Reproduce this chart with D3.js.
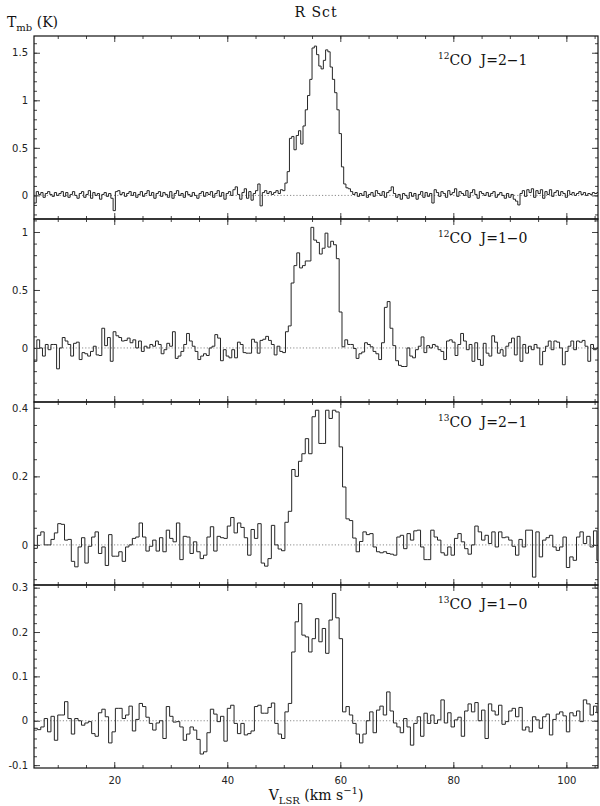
<!DOCTYPE html>
<html><head><meta charset="utf-8">
<script src="https://cdn.jsdelivr.net/npm/d3@7"></script>
<style>body{margin:0;background:#fff}</style>
</head><body><svg id="c" width="600" height="806"></svg>
<script>
// ---------------- data ----------------
const chartTitle = "R Sct";
const velocityRange = [5.8, 105.6];          // km/s shown on x axis
const xTickValues = [20, 40, 60, 80, 100];
const xTickLabels = ["20", "40", "60", "80", "100"];
const xMinorStep = 5;

const panelIsotopes = ["12", "12", "13", "13"];
const panelLines = ["CO J=2\u22121", "CO J=1\u22120", "CO J=2\u22121", "CO J=1\u22120"];
const firstChannelStart = 5.8;                // km/s, left edge of first channel
const channelWidths = [0.4, 0.5, 0.6, 0.6];   // km/s

const yDomains = [[-0.248, 1.676], [-0.466, 1.112], [-0.117, 0.417], [-0.1065, 0.306]];
const yTickValues = [[0, 0.5, 1, 1.5], [0, 0.5, 1], [0, 0.2, 0.4], [-0.1, 0, 0.1, 0.2, 0.3]];
const yTickLabels = [["0", "0.5", "1", "1.5"], ["0", "0.5", "1"], ["0", "0.2", "0.4"], ["-0.1", "0", "0.1", "0.2", "0.3"]];
const yMinorSteps = [0.1, 0.1, 0.05, 0.02];

// 12CO J=2-1, Tmb (K), 0.4 km/s channels
const co12_21 = [
 -0.08, 0.04, 0.01, 0.03,-0.02, 0.02, 0.04, 0.01,-0.01, 0.03,
  0.00, 0.02, 0.04,-0.01, 0.03,-0.02, 0.01, 0.04, 0.00,-0.03,
  0.02, 0.04,-0.02, 0.01, 0.05,-0.03, 0.03, 0.00, 0.02,-0.04,
  0.01, 0.03,-0.01, 0.02,-0.03,-0.16, 0.04, 0.05, 0.01, 0.03,
 -0.01, 0.02, 0.04, 0.00, 0.03,-0.02, 0.01, 0.04,-0.01, 0.02,
  0.05, 0.00, 0.03,-0.03, 0.02, 0.04,-0.01, 0.03, 0.01,-0.02,
  0.04,-0.03, 0.02, 0.05, 0.00, 0.02,-0.02, 0.04, 0.01,-0.01,
  0.03, 0.00,-0.03, 0.02, 0.04,-0.01, 0.03, 0.01, 0.04,-0.02,
  0.02, 0.05,-0.01, 0.03,-0.04, 0.02, 0.04, 0.00, 0.06, 0.09,
  0.01,-0.04, 0.03, 0.07,-0.03, 0.04,-0.05, 0.02, 0.05, 0.12,
 -0.11, 0.03, 0.05, 0.02, 0.04, 0.01, 0.03, 0.05, 0.02, 0.06,
  0.05, 0.13, 0.25, 0.60, 0.62, 0.48, 0.63, 0.68, 0.54, 0.73,
  0.90, 1.05, 1.22, 1.55, 1.57, 1.48, 1.36, 1.33, 1.42, 1.53,
  1.51, 1.35, 1.22, 1.08, 0.90, 0.65, 0.30, 0.12, 0.08, 0.07,
  0.04, 0.01, 0.03,-0.01, 0.02, 0.00, 0.04,-0.02, 0.01, 0.03,
 -0.01, 0.05, 0.02, 0.00, 0.04,-0.02, 0.03, 0.05, 0.09, 0.02,
 -0.02, 0.01,-0.04, 0.02, 0.00,-0.03, 0.03,-0.01, 0.02,-0.04,
  0.01, 0.04,-0.02, 0.03,-0.01, 0.02,-0.08, 0.06, 0.03,-0.01,
  0.04, 0.02,-0.02, 0.05, 0.01, 0.03, 0.07,-0.01, 0.04, 0.02,
  0.00, 0.05,-0.02, 0.03, 0.06, 0.01,-0.03, 0.04, 0.02, 0.00,
  0.03,-0.01, 0.02, 0.04,-0.02, 0.01, 0.03, 0.00,-0.03, 0.02,
 -0.02, 0.01,-0.04,-0.06,-0.10, 0.02, 0.05,-0.01, 0.06, 0.03,
  0.07,-0.02, 0.05, 0.02, 0.06,-0.03, 0.04, 0.01, 0.06,-0.01,
  0.03, 0.05, 0.00, 0.04, 0.02,-0.02, 0.05, 0.01, 0.03, 0.00,
  0.02, 0.04, 0.01, 0.03, 0.00, 0.02, 0.01, 0.03, 0.02, 0.03
];

// 12CO J=1-0, 0.5 km/s channels
const co12_10 = [
 -0.115, 0.07, 0.00,-0.07, 0.03,-0.015, 0.03, 0.03,-0.18, 0.00,
  0.09, 0.06, 0.03,-0.07, 0.04, 0.05,-0.10,-0.04,-0.05,-0.07,
 -0.03, 0.015,-0.06,-0.065, 0.17, 0.02, 0.09,-0.115, 0.14, 0.105,
  0.09, 0.06, 0.065, 0.085, 0.045, 0.07, 0.00, 0.06,-0.03, 0.015,
  0.00, 0.03, 0.015, 0.06, 0.03,-0.05,-0.015, 0.04, 0.015, 0.14,
 -0.09,-0.07,-0.03, 0.03, 0.125, 0.06, 0.015,-0.03,-0.10,-0.07,
 -0.05,-0.065, 0.00, 0.015, 0.115, 0.085,-0.11,-0.015,-0.07,-0.085,
 -0.015,-0.085, 0.05, 0.03,-0.04,-0.045,-0.045, 0.075, 0.05,-0.045,
  0.065, 0.075, 0.10, 0.065, 0.03,-0.06, 0.015,-0.03,-0.04, 0.14,
  0.19, 0.56, 0.71, 0.82, 0.69, 0.71, 0.75, 0.75, 1.04, 0.93,
  0.91, 0.81, 0.86, 0.99, 0.87, 0.92, 0.89, 0.77, 0.31, 0.01,
  0.07, 0.03, 0.03,-0.005,-0.09,-0.05,-0.035, 0.045, 0.03, 0.01,
 -0.03,-0.05,-0.10, 0.045, 0.35, 0.40, 0.17, 0.02,-0.11,-0.15,
 -0.16,-0.16, 0.00,-0.07,-0.085,-0.015, 0.015, 0.095,-0.04, 0.02,
  0.00, 0.03, 0.015,-0.015,-0.03,-0.10, 0.06, 0.07, 0.05,-0.065,
  0.03, 0.125, 0.06,-0.015, 0.03,-0.115, 0.045,-0.10,-0.15, 0.04,
 -0.045,-0.07, 0.105, 0.05,-0.045,-0.015,-0.07, 0.015, 0.045, 0.085,
 -0.06, 0.10,-0.115, 0.03,-0.045, 0.015,-0.015, 0.03, 0.00,-0.145,
 -0.03, 0.015, 0.06,-0.015, 0.06, 0.05, 0.00,-0.145,-0.03, 0.015,
  0.06,-0.015, 0.06, 0.05, 0.065, 0.015,-0.115, 0.03,-0.015, 0.00
];

// 13CO J=2-1, 0.6 km/s channels
const co13_21 = [
 -0.01, 0.028, 0.038, 0.00, 0.00, 0.016, 0.035, 0.062, 0.06, 0.014,
  0.016,-0.048,-0.064,-0.006, 0.021,-0.053,-0.004, 0.023, 0.038,-0.025,
 -0.006,-0.06, 0.03,-0.033,-0.033,-0.02,-0.048,-0.006, 0.00, 0.019,
  0.023, 0.064, 0.023,-0.018,-0.004, 0.014,-0.018, 0.021,-0.02, 0.043,
  0.019, 0.009, 0.064,-0.043, 0.025, 0.023,-0.025, 0.009,-0.02,-0.04,
 -0.03, 0.023, 0.053,-0.018, 0.025, 0.021, 0.019, 0.055, 0.08, 0.035,
  0.064, 0.051, 0.021,-0.03, 0.045, 0.019, 0.062,-0.053,-0.062,-0.04,
  0.057, 0.00,-0.012,-0.017, 0.066, 0.098, 0.22, 0.20, 0.244, 0.266,
  0.31, 0.266, 0.374, 0.393, 0.296, 0.296, 0.393, 0.369, 0.393, 0.388,
  0.286, 0.169, 0.076, 0.071, 0.02,-0.02, 0.01, 0.038, 0.03, 0.033,
 -0.006,-0.02,-0.023,-0.02,-0.025,-0.027,-0.03, 0.023, 0.028,-0.011,
  0.033, 0.014, 0.041, 0.043,-0.006,-0.043,-0.043, 0.043, 0.023, 0.014,
 -0.023,-0.03,-0.006,-0.03, 0.019, 0.033, 0.009,-0.011,-0.027, 0.00,
  0.055, 0.038, 0.014, 0.028, 0.004, 0.038,-0.006, 0.038, 0.021, 0.023,
  0.014,-0.004,-0.03, 0.016,-0.006, 0.043, 0.043,-0.094, 0.038,-0.035,
  0.014, 0.021, 0.028,-0.006,-0.016,-0.006, 0.023,-0.066,-0.035,-0.045,
  0.023, 0.038, 0.004, 0.025,-0.006, 0.041,-0.045
];

// 13CO J=1-0, 0.6 km/s channels
const co13_10 = [
 -0.017,-0.02,-0.014, 0.005,-0.025, 0.01,-0.044, 0.013, 0.013, 0.043,
  0.005,-0.03, 0.005, 0.00,-0.01,-0.005,-0.002,-0.029,-0.035, 0.018,
  0.026, 0.009,-0.05,-0.025, 0.028, 0.028, 0.005, 0.013, 0.033,-0.023,
  0.003, 0.039, 0.032, 0.008,-0.006,-0.021,-0.005, 0.00,-0.04, 0.032,
  0.01,-0.003,-0.002,-0.014,-0.044,-0.03,-0.014,-0.021,-0.042,-0.075,
 -0.07,-0.027, 0.026, 0.015,-0.002, 0.01,-0.046, 0.028, 0.035,-0.006,
 -0.029,-0.006,-0.032,-0.029,-0.023, 0.032, 0.035, 0.017, 0.017, 0.03,
  0.04,-0.006,-0.03,-0.04, 0.02, 0.039, 0.155, 0.223, 0.264, 0.193,
  0.189, 0.155, 0.185, 0.23, 0.178, 0.208, 0.152, 0.227, 0.287, 0.232,
  0.185, 0.02, 0.032, 0.013,-0.006,-0.03,-0.05,-0.03, 0.00, 0.02,
 -0.027, 0.024, 0.033, 0.013, 0.065, 0.022,-0.005,-0.014,-0.027, 0.005,
 -0.014,-0.055,-0.006, 0.009,-0.035, 0.017,-0.006, 0.013,-0.006, 0.002,
  0.047,-0.005, 0.018,-0.014, 0.002, 0.008,-0.035, 0.022, 0.038, 0.02,
  0.041, 0.00, 0.024,-0.04, 0.038, 0.022, 0.013, 0.035,-0.008,-0.002,
  0.022, 0.028, 0.009, 0.03,-0.021,-0.014,-0.025, 0.009, 0.002,-0.017,
  0.009, 0.015,-0.032, 0.003, 0.015, 0.02, 0.011,-0.025, 0.018, 0.011,
  0.022,-0.002, 0.047, 0.038, 0.013, 0.033, 0.018
];

const spectra = [co12_21, co12_10, co13_21, co13_10];

// ---------------- drawing ----------------
const W = 600, H = 806;
const pLeft = 34, pRight = 598, pTop = 36, panelH = 183;
const labelBaselines = [65, 243, 427, 609];
const sans = "'DejaVu Sans', sans-serif";
const serif = "'DejaVu Serif', serif";

const svg = d3.select("#c");
svg.append("rect").attr("width", W).attr("height", H).attr("fill", "#fff");

const x = d3.scaleLinear().domain(velocityRange).range([pLeft, pRight]);
const xMinor = d3.range(Math.ceil(velocityRange[0] / xMinorStep) * xMinorStep, velocityRange[1], xMinorStep);

function rangeSteps(dom, step) {
  const out = [];
  const s = Math.ceil(dom[0] / step - 1e-9), e = Math.floor(dom[1] / step + 1e-9);
  for (let k = s; k <= e; k++) out.push(+(k * step).toFixed(6));
  return out;
}

spectra.forEach((data, p) => {
  const y0 = pTop + p * panelH, y1 = y0 + panelH;
  const y = d3.scaleLinear().domain(yDomains[p]).range([y1, y0]);
  const g = svg.append("g");

  const cid = "clip" + p;
  svg.append("clipPath").attr("id", cid).append("rect")
    .attr("x", pLeft).attr("y", y0).attr("width", pRight - pLeft).attr("height", panelH);

  // zero line
  g.append("line").attr("x1", pLeft).attr("x2", pRight).attr("y1", y(0)).attr("y2", y(0))
    .attr("stroke", "#8a8a8a").attr("stroke-width", 1).attr("stroke-dasharray", "1.2,2");

  // spectrum (histogram style)
  const dv = channelWidths[p];
  const pts = data.map((t, i) => [firstChannelStart + i * dv, t]);
  pts.push([firstChannelStart + data.length * dv, data[data.length - 1]]);
  const line = d3.line().x(d => x(d[0])).y(d => y(d[1])).curve(d3.curveStepAfter);
  g.append("path").attr("d", line(pts)).attr("fill", "none")
    .attr("stroke", "#262626").attr("stroke-width", 1).attr("clip-path", `url(#${cid})`);

  const tickStyle = sel => { sel.select(".domain").remove(); sel.selectAll("line").attr("stroke", "#444"); };
  const isBottom = p === spectra.length - 1;

  g.append("g").attr("transform", `translate(0,${y0})`)
    .call(d3.axisTop(x).tickValues(xMinor).tickSize(-3).tickFormat(""))
    .call(tickStyle);
  g.append("g").attr("transform", `translate(0,${y0})`)
    .call(d3.axisTop(x).tickValues(xTickValues).tickSize(-6).tickFormat(""))
    .call(tickStyle);
  g.append("g").attr("transform", `translate(0,${y1})`)
    .call(d3.axisBottom(x).tickValues(xMinor).tickSize(-3).tickFormat(""))
    .call(tickStyle);
  const xb = g.append("g").attr("transform", `translate(0,${y1})`)
    .call(d3.axisBottom(x).tickValues(xTickValues).tickSize(-6).tickPadding(9)
      .tickFormat((d, i) => isBottom ? xTickLabels[i] : ""))
    .call(tickStyle);
  xb.selectAll("text").attr("font-family", sans).attr("font-size", 10).attr("fill", "#222");

  const yMin = rangeSteps(yDomains[p], yMinorSteps[p]);
  g.append("g").attr("transform", `translate(${pLeft},0)`)
    .call(d3.axisLeft(y).tickValues(yMin).tickSize(-3).tickFormat("")).call(tickStyle);
  g.append("g").attr("transform", `translate(${pRight},0)`)
    .call(d3.axisRight(y).tickValues(yMin).tickSize(-3).tickFormat("")).call(tickStyle);
  g.append("g").attr("transform", `translate(${pRight},0)`)
    .call(d3.axisRight(y).tickValues(yTickValues[p]).tickSize(-6).tickFormat("")).call(tickStyle);
  const yl = g.append("g").attr("transform", `translate(${pLeft},0)`)
    .call(d3.axisLeft(y).tickValues(yTickValues[p]).tickSize(-6).tickPadding(6)
      .tickFormat((d, i) => yTickLabels[p][i]))
    .call(tickStyle);
  yl.selectAll("text").attr("font-family", sans).attr("font-size", 10).attr("fill", "#222");

  g.append("rect").attr("x", pLeft).attr("y", y0).attr("width", pRight - pLeft).attr("height", panelH)
    .attr("fill", "none").attr("stroke", "#111").attr("stroke-width", 1.2);

  const t = g.append("text").attr("x", 438).attr("y", labelBaselines[p])
    .attr("font-family", serif).attr("font-size", 14).attr("fill", "#111");
  t.append("tspan").attr("font-size", 9).attr("dy", -6).text(panelIsotopes[p]);
  t.append("tspan").attr("dy", 6).text(panelLines[p].replace(" ", "\u00a0\u00a0"));
});

svg.append("text").attr("x", 316).attr("y", 17).attr("text-anchor", "middle")
  .attr("font-family", serif).attr("font-size", 14).attr("letter-spacing", 1).attr("fill", "#111")
  .text(chartTitle);

const ylab = svg.append("text").attr("x", 7).attr("y", 27)
  .attr("font-family", serif).attr("font-size", 14).attr("fill", "#111");
ylab.append("tspan").text("T");
ylab.append("tspan").attr("font-size", 10).attr("dy", 4).text("mb");
ylab.append("tspan").attr("dy", -4).text("\u00a0(K)");

const xlab = svg.append("text").attr("x", 316).attr("y", 800).attr("text-anchor", "middle")
  .attr("font-family", serif).attr("font-size", 14).attr("fill", "#111");
xlab.append("tspan").text("V");
xlab.append("tspan").attr("font-size", 10).attr("dy", 4).text("LSR");
xlab.append("tspan").attr("dy", -4).text("\u00a0(km\u00a0s");
xlab.append("tspan").attr("font-size", 10).attr("dy", -6).text("\u22121");
xlab.append("tspan").attr("dy", 6).text(")");
</script>
</body></html>
